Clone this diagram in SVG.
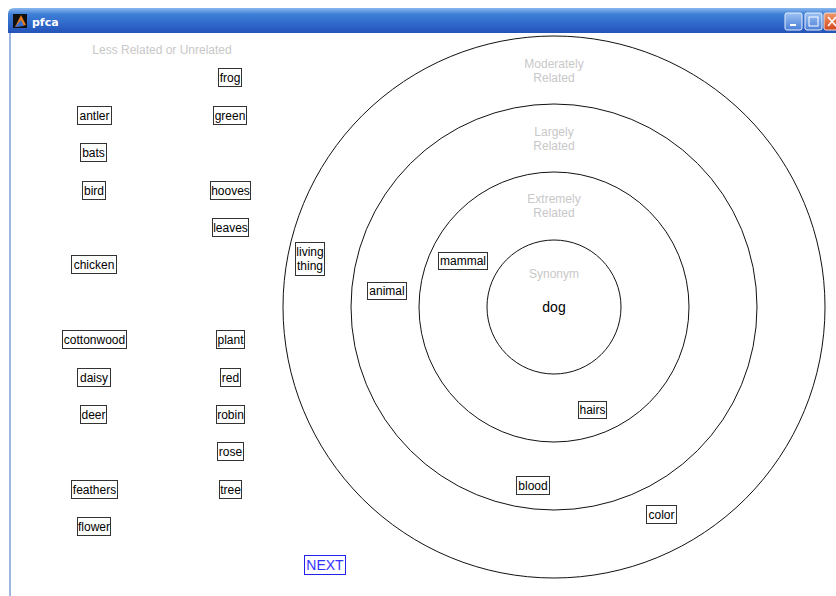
<svg xmlns="http://www.w3.org/2000/svg" width="836" height="596" viewBox="0 0 836 596">
<defs>
<linearGradient id="tb" x1="0" y1="0" x2="0" y2="1">
<stop offset="0" stop-color="#8ab8ee"/>
<stop offset="0.25" stop-color="#3d7fd6"/>
<stop offset="0.8" stop-color="#2a5fc4"/>
<stop offset="1" stop-color="#2452b4"/>
</linearGradient>
<linearGradient id="btn" x1="0" y1="0" x2="0" y2="1">
<stop offset="0" stop-color="#9cc1f2"/>
<stop offset="1" stop-color="#4a7fd8"/>
</linearGradient>
<linearGradient id="cls" x1="0" y1="0" x2="0" y2="1">
<stop offset="0" stop-color="#f09a6c"/>
<stop offset="1" stop-color="#d2461c"/>
</linearGradient>
</defs>
<style>
.box{fill:#fff;stroke:#333;stroke-width:1}
.t{font-family:"Liberation Sans",Arial,sans-serif;font-size:12px;fill:#000;text-anchor:middle}
.g{font-family:"Liberation Sans",Arial,sans-serif;font-size:12px;fill:#c8c8c8;text-anchor:middle}
.ring{fill:none;stroke:#111;stroke-width:1}
</style>
<rect width="836" height="596" fill="#fff"/>
<!-- window frame -->
<g id="window">
<path d="M8,33 L8,14 Q8,8 14,8 L836,8 L836,33 Z" fill="url(#tb)"/>
<line x1="10" y1="33" x2="10" y2="596" stroke="#7f9fd6" stroke-width="1.5"/>
<rect x="13" y="14" width="14" height="14" fill="#111"/>
<path d="M15,27 L21,15 L26,25 Z" fill="#e67a1c"/>
<path d="M15,27 L21,20 L24,26 Z" fill="#3a6fd0"/>
<text x="32" y="26" font-family="'DejaVu Sans',Tahoma,sans-serif" font-size="11" font-weight="bold" fill="#fff">pfca</text>
<rect x="785" y="13" width="17" height="17" rx="2" fill="url(#btn)" stroke="#e8eefa"/>
<rect x="790" y="24" width="6" height="2" fill="#fff"/>
<rect x="805" y="13" width="17" height="17" rx="2" fill="url(#btn)" stroke="#e8eefa"/>
<rect x="809" y="17" width="9" height="9" fill="none" stroke="#fff"/>
<rect x="824" y="13" width="17" height="17" rx="2" fill="url(#cls)" stroke="#f0e0d8"/>
<path d="M828,17 L836,26 M836,17 L828,26" stroke="#fff" stroke-width="1.6"/>
</g>
<!-- rings -->
<g id="rings">
<circle class="ring" cx="554" cy="307" r="271"/>
<circle class="ring" cx="554" cy="307" r="203"/>
<circle class="ring" cx="554" cy="307" r="135"/>
<circle class="ring" cx="554" cy="307" r="67"/>
</g>
<g id="zone-labels">
<text class="g" x="162" y="54">Less Related or Unrelated</text>
<text class="g" x="554" y="68">Moderately</text>
<text class="g" x="554" y="82">Related</text>
<text class="g" x="554" y="136">Largely</text>
<text class="g" x="554" y="150">Related</text>
<text class="g" x="554" y="203">Extremely</text>
<text class="g" x="554" y="217">Related</text>
<text class="g" x="554" y="278">Synonym</text>
</g>
<g id="dog"><text x="554" y="312" font-family="'Liberation Sans',Arial,sans-serif" font-size="14" text-anchor="middle">dog</text></g>
<!-- left column -->
<g id="antler"><rect class="box" x="77.5" y="106.5" width="34" height="18"/><text class="t" x="94.5" y="120">antler</text></g>
<g id="bats"><rect class="box" x="80.5" y="143.5" width="26" height="18"/><text class="t" x="93.5" y="157">bats</text></g>
<g id="bird"><rect class="box" x="82.5" y="181.5" width="23" height="18"/><text class="t" x="94" y="195">bird</text></g>
<g id="chicken"><rect class="box" x="71.5" y="255.5" width="45" height="18"/><text class="t" x="94" y="269">chicken</text></g>
<g id="cottonwood"><rect class="box" x="62.5" y="330.5" width="64" height="18"/><text class="t" x="94.5" y="344">cottonwood</text></g>
<g id="daisy"><rect class="box" x="77.5" y="368.5" width="33" height="18"/><text class="t" x="94" y="382">daisy</text></g>
<g id="deer"><rect class="box" x="80.5" y="405.5" width="26" height="18"/><text class="t" x="93.5" y="419">deer</text></g>
<g id="feathers"><rect class="box" x="71.5" y="480.5" width="46" height="18"/><text class="t" x="94.5" y="494">feathers</text></g>
<g id="flower"><rect class="box" x="77.5" y="517.5" width="33" height="18"/><text class="t" x="94" y="531">flower</text></g>
<!-- right column -->
<g id="frog"><rect class="box" x="218.5" y="68.5" width="23" height="18"/><text class="t" x="230" y="82">frog</text></g>
<g id="green"><rect class="box" x="213.5" y="106.5" width="33" height="18"/><text class="t" x="230" y="120">green</text></g>
<g id="hooves"><rect class="box" x="210.5" y="181.5" width="40" height="18"/><text class="t" x="230.5" y="195">hooves</text></g>
<g id="leaves"><rect class="box" x="212.5" y="218.5" width="36" height="18"/><text class="t" x="230.5" y="232">leaves</text></g>
<g id="plant"><rect class="box" x="216.5" y="330.5" width="28" height="18"/><text class="t" x="230.5" y="344">plant</text></g>
<g id="red"><rect class="box" x="220.5" y="368.5" width="20" height="18"/><text class="t" x="230.5" y="382">red</text></g>
<g id="robin"><rect class="box" x="216.5" y="405.5" width="28" height="18"/><text class="t" x="230.5" y="419">robin</text></g>
<g id="rose"><rect class="box" x="217.5" y="442.5" width="26" height="18"/><text class="t" x="230.5" y="456">rose</text></g>
<g id="tree"><rect class="box" x="219.5" y="480.5" width="22" height="18"/><text class="t" x="230.5" y="494">tree</text></g>
<!-- ring words -->
<g id="living-thing"><rect class="box" x="295.5" y="242.5" width="29" height="33"/><text class="t" x="310" y="256">living</text><text class="t" x="310" y="270">thing</text></g>
<g id="animal"><rect class="box" x="367.5" y="282.5" width="39" height="17"/><text class="t" x="387" y="295">animal</text></g>
<g id="mammal"><rect class="box" x="438.5" y="252.5" width="49" height="17"/><text class="t" x="463" y="265">mammal</text></g>
<g id="hairs"><rect class="box" x="578.5" y="401.5" width="28" height="17"/><text class="t" x="592.5" y="414">hairs</text></g>
<g id="blood"><rect class="box" x="516.5" y="476.5" width="33" height="18"/><text class="t" x="533" y="490">blood</text></g>
<g id="color"><rect class="box" x="646.5" y="505.5" width="30" height="18"/><text class="t" x="661.5" y="519">color</text></g>
<g id="next"><rect x="304.5" y="555.5" width="41" height="19" fill="#fff" stroke="#2222ee" stroke-width="1"/><text x="325" y="570" font-family="'Liberation Sans',Arial,sans-serif" font-size="14" fill="#3333ff" text-anchor="middle">NEXT</text></g>
<g id="connectors"/>
</svg>
